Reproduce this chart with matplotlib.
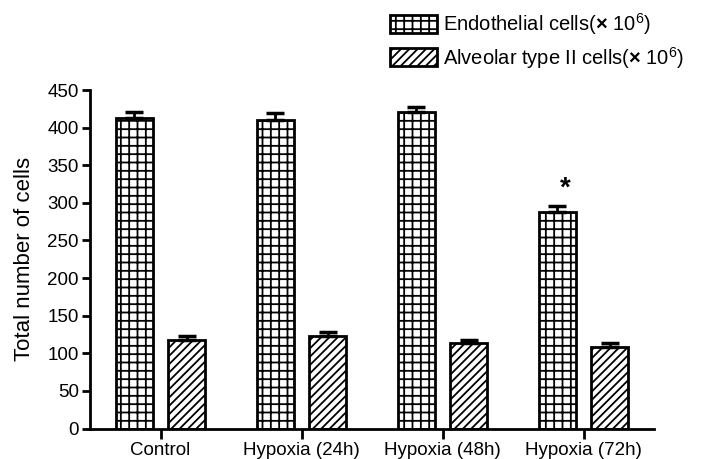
import matplotlib
matplotlib.use("Agg")
import matplotlib.pyplot as plt
import numpy as np

plt.rcParams["font.family"] = ["Liberation Sans", "DejaVu Sans"]
plt.rcParams["mathtext.fontset"] = "custom"
plt.rcParams["mathtext.rm"] = "Liberation Sans"
plt.rcParams["mathtext.it"] = "Liberation Sans:italic"
plt.rcParams["mathtext.bf"] = "Liberation Sans:bold"
plt.rcParams["hatch.linewidth"] = 1.3

groups = ["Control", "Hypoxia (24h)", "Hypoxia (48h)", "Hypoxia (72h)"]
endothelial = [413, 410, 421, 288]
endothelial_sem = [8, 10, 7, 8]
alveolar = [118, 123, 114, 109]
alveolar_sem = [5, 5, 4, 4]
significant = [False, False, False, True]

fig = plt.figure(figsize=(7.02, 4.59), dpi=100)
ax = fig.add_axes([90 / 702, 1 - 428.5 / 459, 564 / 702, 338.5 / 459])

x = np.arange(len(groups))
w = 0.262
off = 0.186
err_kw = dict(elinewidth=2, capthick=2.5, ecolor="black")

ax.bar(x - off, endothelial, w, yerr=[np.zeros(len(x)), endothelial_sem],
       capsize=6.5, error_kw=err_kw, facecolor="white", edgecolor="black",
       linewidth=2, hatch="++", label=r"Endothelial cells($\mathbf{\times}$ 10$^6$)")
ax.bar(x + off, alveolar, w, yerr=[np.zeros(len(x)), alveolar_sem],
       capsize=6.5, error_kw=err_kw, facecolor="white", edgecolor="black",
       linewidth=2, hatch="////", label=r"Alveolar type II cells($\mathbf{\times}$ 10$^6$)")

# significance marker
for i, sig in enumerate(significant):
    if sig:
        ax.text(x[i] - off + 0.06, endothelial[i] + endothelial_sem[i] + 5, "*",
                ha="center", va="bottom", fontsize=20, fontweight="bold")

ax.set_xlim(-0.5, 3.5)
ax.set_ylim(0, 450)
ax.set_yticks(np.arange(0, 451, 50))
ax.set_xticks(x, groups)
ax.tick_params(axis="y", length=6, width=2, labelsize=13.5, pad=2)
ax.tick_params(axis="x", length=7, width=2, labelsize=13.5, pad=3)
ax.set_ylabel("Total number of cells", fontsize=16, labelpad=9)
for s in ["top", "right"]:
    ax.spines[s].set_visible(False)
for s in ["left", "bottom"]:
    ax.spines[s].set_linewidth(2)

fig.legend(loc="upper left", bbox_to_anchor=(376 / 702, 1 + 3 / 459),
           frameon=False, fontsize=14.5, handlelength=2.35, handleheight=1.0,
           handletextpad=0.3, labelspacing=0.38, borderpad=0.2)

fig.savefig("out.png", dpi=100)
